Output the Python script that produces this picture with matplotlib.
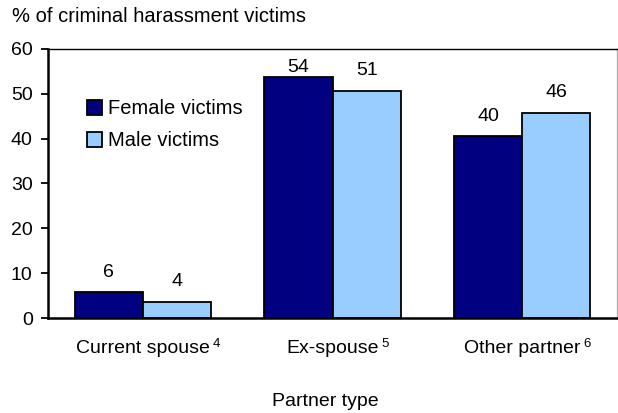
import numpy as np
import matplotlib
matplotlib.use("Agg")
import matplotlib.pyplot as plt

plt.rcParams['font.family'] = ['Liberation Sans', 'DejaVu Sans']

categories = ["Current spouse", "Ex-spouse", "Other partner"]
notes = ["4", "5", "6"]
female = [5.8, 53.8, 40.5]
male = [3.6, 50.7, 45.8]
female_lbl = ["6", "54", "40"]
male_lbl = ["4", "51", "46"]

FS = 14

fig = plt.figure(figsize=(6.18, 4.13), dpi=100)
ax = fig.add_axes([0.0777, 0.230, 0.9207, 0.6514])

x = np.arange(len(categories))
w = 0.36
b1 = ax.bar(x - w / 2, female, w, color='#000080', edgecolor='black', linewidth=1.3, label='Female victims')
b2 = ax.bar(x + w / 2, male, w, color='#99CCFF', edgecolor='black', linewidth=1.3, label='Male victims')

ax.set_xlim(-0.5, 2.5)
ax.set_ylim(0, 60)

# value labels: ~20 px above the bar, kept inside the plot area
px = 60 / (0.6514 * 413)
for bars, labels in ((b1, female_lbl), (b2, male_lbl)):
    for rect, t in zip(bars, labels):
        ypos = min(rect.get_height() + 20 * px, 60 - 19 * px)
        ax.text(rect.get_x() + rect.get_width() / 2, ypos, t,
                ha='center', va='center', fontsize=FS)

ax.set_yticks(range(0, 61, 10))
ax.tick_params(axis='y', direction='out', length=5, width=1.3, labelsize=FS, pad=6)
ax.tick_params(axis='x', length=0, labelsize=FS, pad=16)
ax.set_xticks(x)
ax.set_xticklabels(categories)

for s in ('left', 'bottom'):
    ax.spines[s].set_linewidth(1.8)
ax.spines['top'].set_linewidth(1.0)
ax.spines['right'].set_color('#b0b0b0')
ax.spines['right'].set_linewidth(1.0)

# footnote numbers raised after each category name
fig.canvas.draw()
for lab, n in zip(ax.get_xticklabels(), notes):
    ax.annotate(n, xy=(1, 0.45), xycoords=lab, xytext=(2, 0), textcoords='offset points',
                fontsize=9.5, ha='left', va='bottom')

ax.set_xlabel('Partner type', fontsize=FS, va='center')
ax.xaxis.set_label_coords(0.487, -0.312)
fig.text(12 / 618, 1 - 17 / 413, '% of criminal harassment victims', fontsize=14.5, va='center', ha='left')

ax.legend(loc='upper left', bbox_to_anchor=(0.05, 0.85), frameon=False, fontsize=14.5,
          borderpad=0, handlelength=0.75, handleheight=0.75, handletextpad=0.3, labelspacing=0.65)

fig.savefig('out.png', dpi=100)
